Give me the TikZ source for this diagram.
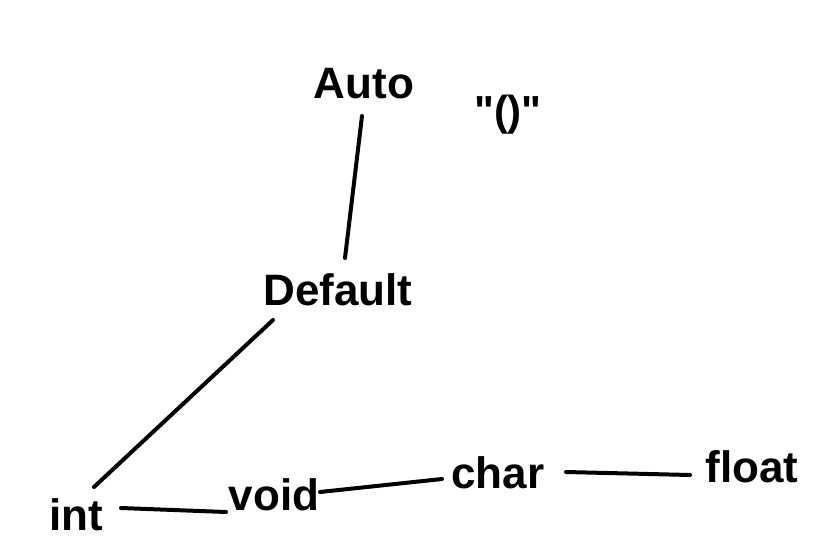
\documentclass[tikz,border=0pt]{standalone}
\usepackage{fontspec}
\setmainfont{Liberation Sans}
\newfontfamily\qfont{Liberation Sans}[Ligatures=ResetAll]
\begin{document}
\begin{tikzpicture}[x=1pt,y=-1pt,
  lbl/.style={anchor=base,inner sep=0pt,font=\fontsize{44}{48}\selectfont\bfseries},
  conn/.style={line width=4pt,line cap=round}]
\useasboundingbox (0,0) rectangle (839,555);
\node[lbl] (auto) at (364,98) {Auto};
\node[lbl,font=\qfont\fontsize{42}{46}\selectfont\bfseries] (paren) at (508,125) {"()"};
\node[lbl] (default) at (338,305) {Default};
\node[lbl] (int) at (76,530) {int};
\node[lbl] (void) at (274,510) {void};
\node[lbl] (char) at (498,488) {char};
\node[lbl] (float) at (752,482) {float};
\draw[conn] ([shift={(-2,18)}]auto.base) -- ([shift={(7,-47)}]default.base);
\draw[conn] ([shift={(-65,15)}]default.base) -- ([shift={(18,-43)}]int.base);
\draw[conn] ([shift={(45,-22)}]int.base) -- ([shift={(-48,2)}]void.base);
\draw[conn] ([shift={(46,-18)}]void.base) -- ([shift={(-56,-9)}]char.base);
\draw[conn] ([shift={(68,-16)}]char.base) -- ([shift={(-62,-7)}]float.base);
\end{tikzpicture}
\end{document}
